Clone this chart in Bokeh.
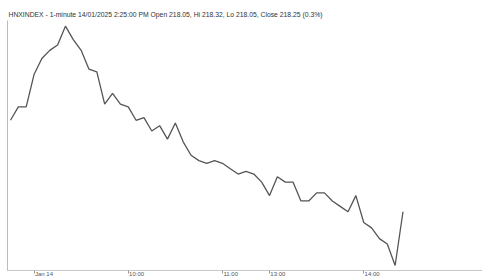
from bokeh.plotting import figure
from bokeh.models import FixedTicker, Range1d
from bokeh.embed import file_html
from bokeh.resources import INLINE

# 5-minute bars, HNXINDEX, 14 Jan 2025 (index = bar number)
bar_idx = list(range(51))
close = [218.59, 218.64, 218.64, 218.76, 218.82, 218.85, 218.87, 218.94, 218.89, 218.85,
         218.78, 218.77, 218.65, 218.69, 218.65, 218.64, 218.59, 218.60, 218.55, 218.57,
         218.52, 218.58, 218.51, 218.46, 218.44, 218.43, 218.44, 218.43, 218.41, 218.39,
         218.40, 218.39, 218.36, 218.31, 218.38, 218.36, 218.36, 218.29, 218.29, 218.32,
         218.32, 218.29, 218.27, 218.25, 218.31, 218.21, 218.19, 218.15, 218.13, 218.05,
         218.25]
tick_idx = [3, 15, 27, 33, 45]
tick_labels = ["Jan 14", "10:00", "11:00", "13:00", "14:00"]
title_text = ("HNXINDEX - 1-minute 14/01/2025 2:25:00 PM Open 218.05, Hi 218.32, "
              "Lo 218.05, Close 218.25 (0.3%)")

FONT = "Liberation Sans"
NB = "\u00a0"

p = figure(width=482, height=279, output_backend="svg", toolbar_location=None,
           x_range=Range1d(-0.38, 60.13), y_range=Range1d(218.0315, 218.961),
           title=title_text,
           min_border_left=7, min_border_right=0,
           min_border_top=20, min_border_bottom=8)
p.outline_line_color = None
p.xgrid.visible = False
p.ygrid.visible = False

p.title.text_font = FONT
p.title.text_font_size = "6.8px"
p.title.text_font_style = "normal"
p.title.text_color = "#333333"
p.title.align = "left"
p.title.offset = 1
p.title.standoff = 6

p.line(bar_idx, close, line_color="#555555", line_width=1.3)

# left border drawn by a bare y axis (no ticks, no labels)
ya = p.yaxis[0]
ya.ticker = FixedTicker(ticks=[])
ya.major_label_standoff = 0
ya.major_tick_out = 0
ya.major_tick_in = 0
ya.minor_tick_line_color = None
ya.major_tick_line_color = None
ya.axis_line_color = "#bbbbbb"

ax = p.xaxis[0]
ax.ticker = FixedTicker(ticks=tick_idx)
ax.minor_tick_line_color = None
ax.major_tick_out = 3
ax.major_tick_in = 0
ax.major_tick_line_color = "#999999"
ax.axis_line_color = "#c8c8c8"
ax.major_label_text_font = FONT
ax.major_label_text_font_size = "6px"
ax.major_label_text_color = "#555555"
ax.major_label_standoff = -3
# pad with non-breaking spaces so each label starts just right of its tick
ax.major_label_overrides = {t: NB * (len(l) * 2) + l for t, l in zip(tick_idx, tick_labels)}

open("out.html", "w").write(file_html(p, INLINE))
